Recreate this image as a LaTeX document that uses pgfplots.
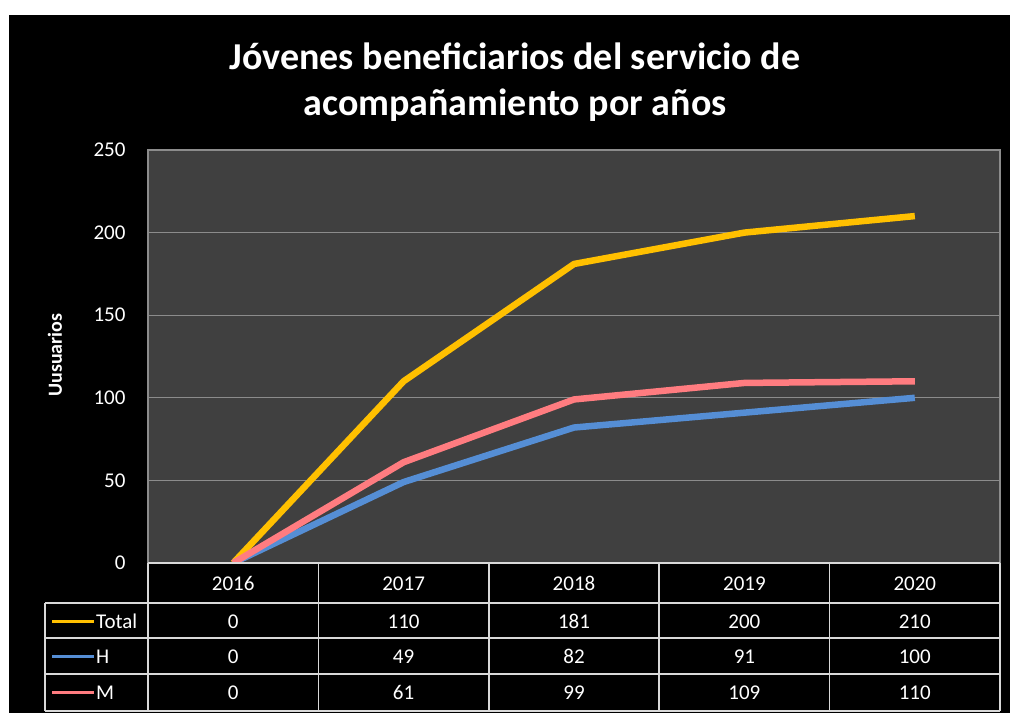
\documentclass[border=0pt]{standalone}
\usepackage{pgfplots}
\pgfplotsset{compat=1.18}
\usepackage{fontspec}
\setmainfont{Carlito}
\definecolor{plotbg}{HTML}{404040}
\definecolor{gridc}{HTML}{8C8C8C}
\definecolor{tot}{HTML}{FFC000}
\definecolor{hc}{HTML}{558ED5}
\definecolor{mc}{HTML}{FF7C80}
\definecolor{tabc}{HTML}{D9D9D9}
\begin{document}
\begin{tikzpicture}[x=1pt,y=1pt]
\fill[white] (0,0) rectangle (1010,713);
\fill[black] (9,0) rectangle (1010,698);
\useasboundingbox (0,0) rectangle (1010,713);
\node[text=white, font=\fontsize{38}{46}\selectfont\bfseries, align=center] at (515,631) {Jóvenes beneficiarios del servicio de\\acompañamiento por años};
\node[rotate=90, text=white, font=\fontsize{20}{20}\selectfont\bfseries] at (55,358) {Uusuarios};
\begin{axis}[at={(148pt,150pt)}, anchor=south west, scale only axis,
  width=852pt, height=413pt,
  xmin=-0.5, xmax=4.5, ymin=0, ymax=250,
  ytick={0,50,...,250}, xtick=\empty,
  ymajorgrids, grid style={gridc, line width=1.2pt},
  axis line style={gridc, line width=1.2pt},
  axis background/.style={fill=plotbg},
  major tick length=0pt,
  /pgf/number format/assume math mode=true,
  yticklabel style={text=white, font=\fontsize{21}{21}\selectfont, xshift=-19pt},
]
\addplot[tot, line width=6.5pt, line join=round] coordinates {(0,0)(1,110)(2,181)(3,200)(4,210)};
\addplot[hc, line width=6.5pt, line join=round] coordinates {(0,0)(1,49)(2,82)(3,91)(4,100)};
\addplot[mc, line width=6.5pt, line join=round] coordinates {(0,0)(1,61)(2,99)(3,109)(4,110)};
\end{axis}
% data table
\begin{scope}[tabc, line width=1.5pt]
\draw (148,150)--(1000,150);
\foreach \y in {110,75,39,2} {\draw (45,\y)--(1000,\y);}
\foreach \x in {148,318.4,488.8,659.2,829.6,1000} {\draw (\x,150)--(\x,2);}
\draw (45,110)--(45,2);
\end{scope}
\begin{scope}[every node/.style={text=white, font=\fontsize{21}{21}\selectfont, text height=14pt, text depth=0pt}]
\foreach \lab [count=\i from 0] in {2016,2017,2018,2019,2020} {\node at (233.2+170.4*\i,130) {\lab};}
\foreach \v [count=\i from 0] in {0,110,181,200,210} {\node at (233.2+170.4*\i,92) {\v};}
\foreach \v [count=\i from 0] in {0,49,82,91,100} {\node at (233.2+170.4*\i,57) {\v};}
\foreach \v [count=\i from 0] in {0,61,99,109,110} {\node at (233.2+170.4*\i,21) {\v};}
\draw[tot, line width=3pt] (52,92)--(94,92); \node[anchor=west, inner sep=1pt] at (95,92) {Total};
\draw[hc, line width=3pt] (52,57)--(94,57); \node[anchor=west, inner sep=1pt] at (95,57) {H};
\draw[mc, line width=3pt] (52,21)--(94,21); \node[anchor=west, inner sep=1pt] at (95,21) {M};
\end{scope}
\end{tikzpicture}
\end{document}
